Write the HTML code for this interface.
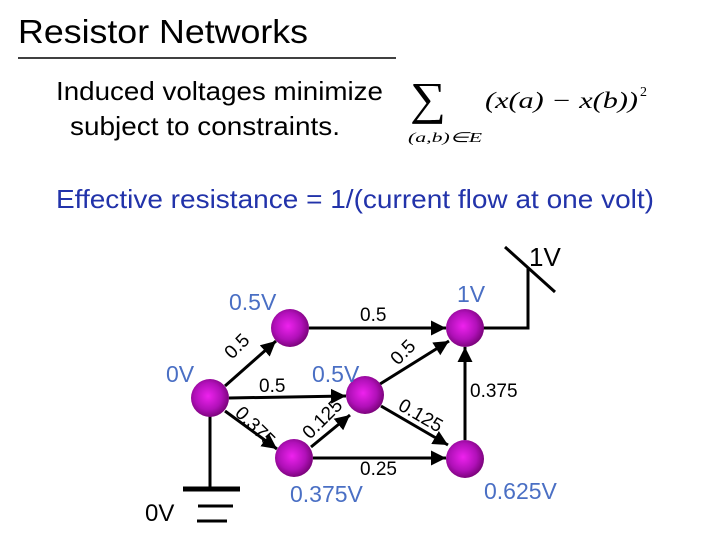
<!DOCTYPE html>
<html><head><meta charset="utf-8"><style>
html,body{margin:0;padding:0;background:#fff;}
body{width:720px;height:540px;overflow:hidden;position:relative;font-family:"Liberation Sans",sans-serif;}
</style></head><body>
<svg width="720" height="540" viewBox="0 0 720 540" xmlns="http://www.w3.org/2000/svg" style="position:absolute;left:0;top:0">
<defs>
<radialGradient id="g" cx="0.45" cy="0.45" r="0.6">
<stop offset="0" stop-color="#ee22ee"/><stop offset="0.6" stop-color="#b010b8"/><stop offset="1" stop-color="#70006e"/>
</radialGradient>
<marker id="ar" viewBox="0 0 10 10" refX="10" refY="5" markerWidth="5" markerHeight="5" orient="auto" markerUnits="strokeWidth">
<path d="M0,0 L10,5 L0,10 z" fill="#000"/></marker>
</defs>
<text x="18" y="43" font-size="33" textLength="290" lengthAdjust="spacingAndGlyphs">Resistor Networks</text>
<line x1="18" y1="58" x2="396" y2="58" stroke="#000" stroke-width="1.5"/>
<text x="56" y="100" font-size="26" textLength="327" lengthAdjust="spacingAndGlyphs">Induced voltages minimize</text>
<text x="70" y="135" font-size="26" textLength="270" lengthAdjust="spacingAndGlyphs">subject to constraints.</text>
<text x="428" y="114" font-size="46" font-family="Liberation Serif" text-anchor="middle" textLength="36" lengthAdjust="spacingAndGlyphs">∑</text>
<text x="485" y="108" font-size="23" font-family="Liberation Serif" font-style="italic" textLength="153" lengthAdjust="spacingAndGlyphs">(x(a) − x(b))</text>
<text x="640" y="96" font-size="14" font-family="Liberation Serif">2</text>
<text x="408" y="142" font-size="14" font-family="Liberation Serif" font-style="italic" textLength="74" lengthAdjust="spacingAndGlyphs">(a,b)∈E</text>
<text x="56" y="208" font-size="26" fill="#2233aa" textLength="598" lengthAdjust="spacingAndGlyphs">Effective resistance = 1/(current flow at one volt)</text>

<g stroke="#000" stroke-width="3" fill="none">
<line x1="210" y1="398" x2="210" y2="487"/>
<line x1="183" y1="489" x2="240" y2="489" stroke-width="5"/>
<line x1="198" y1="506" x2="233" y2="506"/>
<line x1="197" y1="521" x2="227" y2="521"/>
<polyline points="465,328 528,328 528,268"/>
<line x1="505" y1="247" x2="555" y2="292"/>
</g>
<g stroke="#000" stroke-width="3" marker-end="url(#ar)">
<line x1="225" y1="386" x2="276" y2="341"/>
<line x1="309" y1="328" x2="446" y2="328"/>
<line x1="229" y1="398" x2="346" y2="396"/>
<line x1="225" y1="411" x2="277" y2="449"/>
<line x1="311" y1="447" x2="350" y2="415"/>
<line x1="380" y1="384" x2="449" y2="341"/>
<line x1="381" y1="406" x2="448" y2="445"/>
<line x1="313" y1="458" x2="446" y2="458"/>
<line x1="465" y1="440" x2="465" y2="347"/>
</g>
<g fill="url(#g)">
<circle cx="210" cy="398" r="19"/>
<circle cx="290" cy="328" r="19"/>
<circle cx="465" cy="328" r="19"/>
<circle cx="365" cy="395" r="19"/>
<circle cx="294" cy="458" r="19"/>
<circle cx="465" cy="459" r="19"/>
</g>
<g font-size="23" fill="#4a6fc4">
<text x="229" y="310">0.5V</text>
<text x="457" y="302">1V</text>
<text x="166" y="382">0V</text>
<text x="312" y="382">0.5V</text>
<text x="290" y="502">0.375V</text>
<text x="484" y="499">0.625V</text>
</g>
<text x="529" y="266" font-size="26">1V</text>
<text x="145" y="521" font-size="24">0V</text>
<g font-size="19">
<text x="360" y="321">0.5</text>
<text x="259" y="392">0.5</text>
<text x="470" y="397">0.375</text>
<text x="360" y="475">0.25</text>
<text transform="translate(232,360) rotate(-45)">0.5</text>
<text transform="translate(398,366) rotate(-45)">0.5</text>
<text transform="translate(234,414) rotate(45)">0.375</text>
<text transform="translate(310,440) rotate(-45)">0.125</text>
<text transform="translate(397,409) rotate(30)">0.125</text>
</g>
</svg>
</body></html>
